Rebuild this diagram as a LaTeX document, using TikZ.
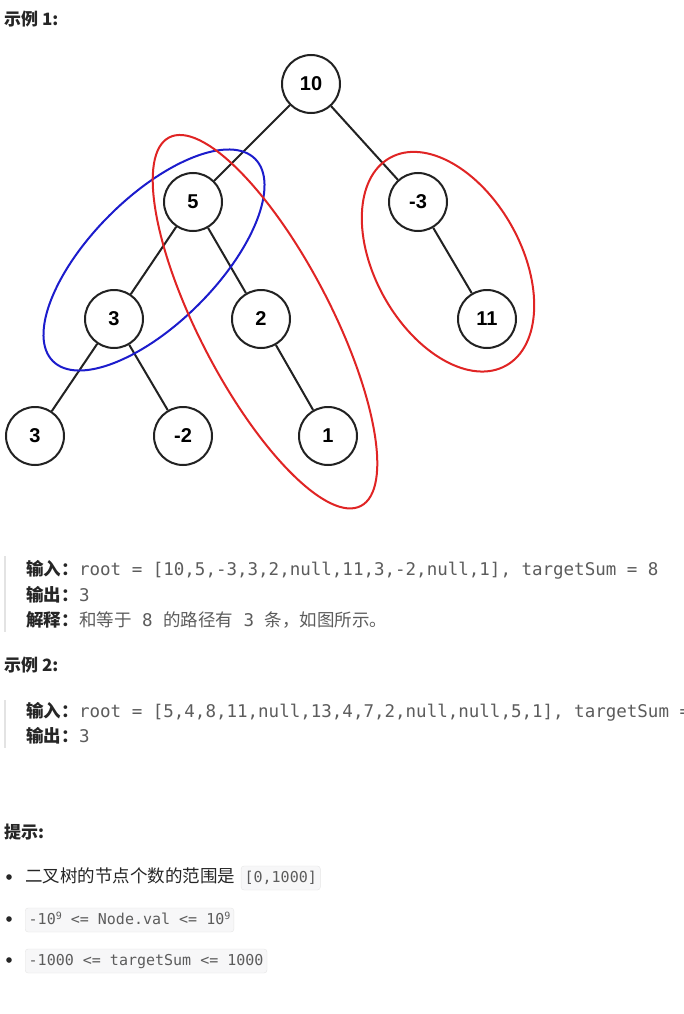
\documentclass[tikz,border=0pt]{standalone}
\usepackage{fontspec}
\usepackage{tikz}
\usetikzlibrary{positioning}
\newfontfamily\cjkfont{Noto Sans CJK SC}
\newfontfamily\codefont{DejaVu Sans Mono}
\newfontfamily\treefont{Liberation Sans}
\newcommand{\fsz}[1]{\fontsize{#1}{#1}\selectfont}
\newcommand{\supnine}{\raisebox{5pt}{\fsz{10}9}}
\definecolor{ringred}{HTML}{E02424}
\definecolor{ringblue}{HTML}{1C1CCC}
\definecolor{ink}{HTML}{222222}
\definecolor{labelcol}{HTML}{262626}
\definecolor{codegray}{HTML}{5C5C5C}
\definecolor{barcol}{HTML}{E3E3E3}
\definecolor{codebg}{HTML}{F7F7F8}
\definecolor{codeline}{HTML}{E6E6E6}

\begin{document}
\begin{tikzpicture}[x=1pt,y=1pt,
  tn/.style={circle,draw=ink,fill=white,line width=2pt,minimum size=58pt,inner sep=0pt,
    font=\treefont\bfseries\fsz{20},text=black},
  link/.style={draw=ink,line width=2pt},
  ring/.style={line width=2pt},
  txt/.style={anchor=base west,inner sep=0pt,font=\cjkfont\fsz{17.5}},
  hd/.style={txt,font=\cjkfont\bfseries\fsz{17},text=labelcol},
  lbl/.style={txt,font=\cjkfont\bfseries\fsz{17.5},text=labelcol},
  code/.style={txt,font=\codefont\fsz{17.5},text=codegray},
  bar/.style={draw=barcol,line width=2.5pt},
  chip/.style={anchor=base west,draw=codeline,fill=codebg,rounded corners=3pt,inner xsep=3.5pt,
    inner ysep=0pt,text height=11pt,text depth=3pt,minimum height=24pt,
    font=\codefont\fsz{15},text=codegray}]
\clip (0,0) rectangle (683,-1014);
\fill[white] (0,0) rectangle (683,-1014);

% heading
\node[hd] (head1) at (4,-26) {示例 1:};

% tree
\node[tn] (v10) at (311,-84) {10};
\node[tn] (v5) at (193,-202) {5};
\node[tn] (vm3) at (418,-202) {-3};
\node[tn] (v3) at (114,-319) {3};
\node[tn] (v2) at (261,-319) {2};
\node[tn] (v11) at (487,-319) {11};
\node[tn] (v3b) at (35,-436) {3};
\node[tn] (vm2) at (183,-436) {-2};
\node[tn] (v1) at (328,-436) {1};
\draw[link] (v10) -- (v5);
\draw[link] (v10) -- (vm3);
\draw[link] (v5) -- (v3);
\draw[link] (v5) -- (v2);
\draw[link] (vm3) -- (v11);
\draw[link] (v3) -- (v3b);
\draw[link] (v3) -- (vm2);
\draw[link] (v2) -- (v1);

% paths with sum 8
\draw[ring,draw=ringblue,shift={(154,-260)},rotate=45] (0,0) ellipse [x radius=143,y radius=63];
\draw[ring,draw=ringred,shift={(265,-321.7)},rotate=-62.5] (0,0) ellipse [x radius=207.7,y radius=65.8];
\draw[ring,draw=ringred,shift={(448,-261.7)},rotate=-60.8] (0,0) ellipse [x radius=119,y radius=73];

% example 1 text
\draw[bar] (5,-556) -- (5,-632);
\node[lbl] (in1) at (26,-575) {输入：};
\node[code] (in1v) at (in1.base east) {root = [10,5,-3,3,2,null,11,3,-2,null,1], targetSum = 8};
\node[lbl] (out1) at (26,-601) {输出：};
\node[code] (out1v) at (out1.base east) {3};
\node[lbl] (why1) at (26,-626) {解释：};
\node[code] (why1v) at (why1.base east) {{\cjkfont 和等于} 8 {\cjkfont 的路径有} 3 {\cjkfont 条，如图所示。}};

% example 2
\node[hd] (head2) at (4,-671) {示例 2:};
\draw[bar] (5,-700) -- (5,-748);
\node[lbl] (in2) at (26,-717) {输入：};
\node[code] (in2v) at (in2.base east) {root = [5,4,8,11,null,13,4,7,2,null,null,5,1], targetSum =};
\node[lbl] (out2) at (26,-742) {输出：};
\node[code] (out2v) at (out2.base east) {3};

% hints
\node[hd] (head3) at (4,-838) {提示:};
\fill[labelcol] (9,-877) circle (2.8);
\fill[labelcol] (9,-919) circle (2.8);
\fill[labelcol] (9,-960) circle (2.8);
\node[txt,text=labelcol] (tip1) at (25,-882) {二叉树的节点个数的范围是};
\node[chip] (tip1v) at ([xshift=5.5pt]tip1.base east) {[0,1000]};
\node[chip] (tip2) at (25,-924) {-10\supnine{} <= Node.val <= 10\supnine};
\node[chip] (tip3) at (25,-965) {-1000 <= targetSum <= 1000};
\end{tikzpicture}
\end{document}
